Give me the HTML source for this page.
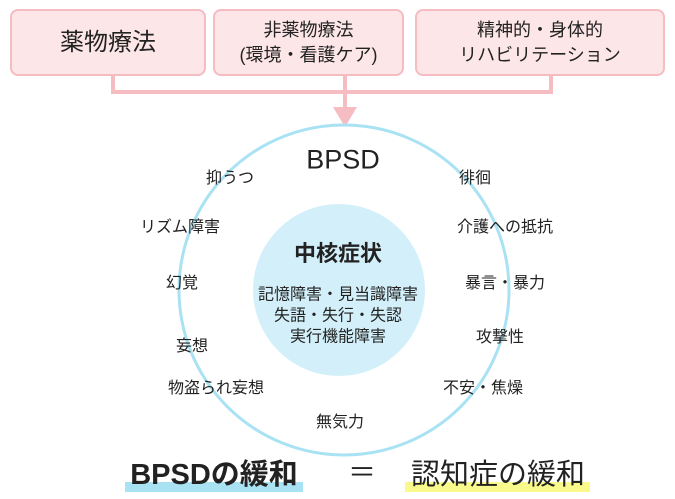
<!DOCTYPE html>
<html><head><meta charset="utf-8"><style>
body{margin:0;width:675px;height:499px;background:#fff;position:relative;overflow:hidden;font-family:"Liberation Sans","Noto Sans CJK JP",sans-serif;color:#222}
.box{position:absolute;top:9px;height:67px;background:#fde6e8;border:2px solid #f5bcc2;border-radius:8px;box-sizing:border-box;display:flex;align-items:center;justify-content:center;text-align:center;font-size:18px;line-height:25px}
.l{position:absolute;font-size:16px;transform:translate(-50%,-50%);white-space:nowrap}
.c{position:absolute;transform:translate(-50%,-50%);white-space:nowrap;text-align:center}
</style></head><body>
<div class="box" style="left:10px;width:196px;font-size:24px">薬物療法</div>
<div class="box" style="left:213px;width:191px">非薬物療法<br>(環境・看護ケア)</div>
<div class="box" style="left:415px;width:250px">精神的・身体的<br>リハビリテーション</div>
<svg style="position:absolute;left:0;top:0" width="675" height="499">
<path d="M113 76V92H551V76M345 76V108" stroke="#f5bcc2" stroke-width="4" fill="none"/>
<polygon points="333,107 357,107 345,127" fill="#f5bcc2"/>
<circle cx="344" cy="290" r="165" fill="none" stroke="#a9e2f3" stroke-width="3"/>
<circle cx="339" cy="290" r="86" fill="#d3f0fa"/>
<rect x="125" y="482" width="178" height="10" fill="#a9e2f3"/>
<rect x="405" y="482" width="185" height="10" fill="#fafa8c"/>
</svg>
<div class="c" style="left:343px;top:160px;font-size:27px">BPSD</div>
<div class="l" style="left:230px;top:176px">抑うつ</div>
<div class="l" style="left:475px;top:176px">徘徊</div>
<div class="l" style="left:180px;top:225px">リズム障害</div>
<div class="l" style="left:505px;top:225px">介護への抵抗</div>
<div class="l" style="left:182px;top:281px">幻覚</div>
<div class="l" style="left:505px;top:281px">暴言・暴力</div>
<div class="l" style="left:192px;top:344px">妄想</div>
<div class="l" style="left:500px;top:335px">攻撃性</div>
<div class="l" style="left:216px;top:386px">物盗られ妄想</div>
<div class="l" style="left:483px;top:386px">不安・焦燥</div>
<div class="l" style="left:340px;top:420px">無気力</div>
<div class="c" style="left:338px;top:252px;font-size:22px;font-weight:bold">中核症状</div>
<div class="c" style="left:338px;top:316px;font-size:16px;line-height:21px">記憶障害・見当識障害<br>失語・失行・失認<br>実行機能障害</div>
<div class="c" style="left:214px;top:472px;font-size:29px;font-weight:bold">BPSDの緩和</div>
<div class="c" style="left:362px;top:471px;font-size:28px">＝</div>
<div class="c" style="left:498px;top:472px;font-size:29px">認知症の緩和</div>
</body></html>
